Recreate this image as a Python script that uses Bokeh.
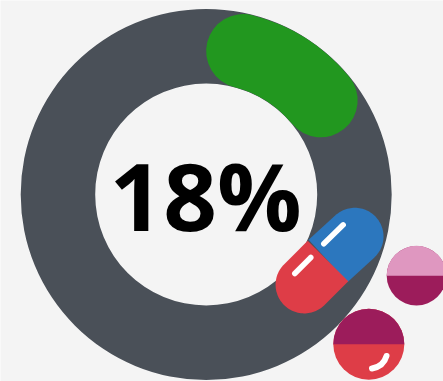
import numpy as np
from bokeh.core.properties import value
from bokeh.embed import file_html
from bokeh.plotting import figure
from bokeh.resources import INLINE

# Gauge value and its label
share_percent = [18]
share_label = ["18%"]

W, H = 443, 381
BG = "#F4F4F4"
RING = "#4A5058"
GREEN = "#22971F"
BLUE = "#2C77BE"
RED = "#DE3D47"
PLUM = "#9C1C5B"
PINK = "#DF97C0"


def yy(py):
    """Convert a top-down layout position to the upward y axis."""
    return H - py


p = figure(width=W, height=H, x_range=(0, W), y_range=(0, H),
           output_backend="svg", toolbar_location=None, min_border=0,
           background_fill_color=BG, border_fill_color=BG, outline_line_color=None)
p.axis.visible = False
p.grid.visible = False

# Ring track
cx, cy = 206, 194
r_out, r_in = 185.5, 111
p.annulus(x=[cx - 0.3], y=[yy(cy)], inner_radius=r_in, outer_radius=r_out,
          fill_color=RING, line_color=None)

# Progress arc: the round caps stay inside the 0..share sweep
r_mid = 148
band = 74
cap = (band / 2) / r_mid
sweep = share_percent[0] / 100 * 2 * np.pi
p.arc(x=[cx], y=[yy(cy)], radius=r_mid,
      start_angle=np.pi / 2 - cap, end_angle=np.pi / 2 - sweep + cap,
      direction="clock", line_color=GREEN, line_width=band, line_cap="round")

# Centre label
p.text(x=[cx - 1], y=[yy(194)], text=share_label, text_font=value("Open Sans"),
       text_font_style="bold", text_font_size="94px", text_color="#000000",
       text_align="center", text_baseline="middle")


def half_capsule(mid, end, radius):
    """Outline of a capsule half: flat side at mid, round cap around end."""
    mx, my = mid
    ex, ey = end
    a = np.arctan2(ey - my, ex - mx)
    t = np.linspace(a - np.pi / 2, a + np.pi / 2, 60)
    xs = ex + radius * np.cos(t)
    ys = ey + radius * np.sin(t)
    nx, ny = radius * np.cos(a + np.pi / 2), radius * np.sin(a + np.pi / 2)
    return ([mx - nx, *xs, mx + nx], [my - ny, *ys, my + ny])


# Capsule
mid = (327.5, yy(260.5))
for end, color in (((354.3, yy(236)), BLUE), ((303.8, yy(284.2)), RED)):
    xs, ys = half_capsule(mid, end, 28.7)
    p.patch(xs, ys, fill_color=color, line_color=None)
p.line([323.3, 342.7], [yy(243.3), yy(224.3)], line_color="white", line_width=5.5, line_cap="round")
p.line([294.3, 310.3], [yy(273), yy(257)], line_color="white", line_width=5.5, line_cap="round")


def tablet(x, y, r, top, bottom):
    # Full disc underneath so no background shows along the dividing line
    p.circle(x=[x], y=[yy(y)], radius=r, fill_color=bottom, line_color=None)
    p.wedge(x=[x], y=[yy(y)], radius=r, start_angle=0, end_angle=np.pi,
            fill_color=top, line_color=None)


# Tablets
tablet(416, 275.2, 29.8, PINK, PLUM)
tablet(368.3, 343.7, 35.5, PLUM, RED)
p.quadratic(x0=[371.5], y0=[yy(368)], x1=[386], y1=[yy(355.5)], cx=[383], cy=[yy(366)],
            line_color="white", line_width=6, line_cap="round")

open("out.html", "w").write(file_html(p, INLINE))
